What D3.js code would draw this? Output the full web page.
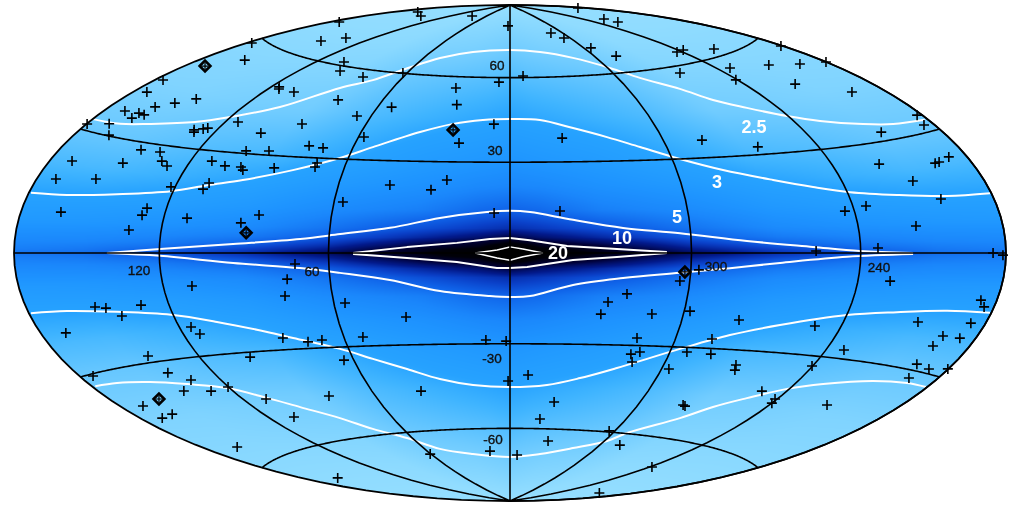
<!DOCTYPE html>
<html><head><meta charset="utf-8"><script src="https://cdn.jsdelivr.net/npm/d3@7"></script>
<style>
html,body{margin:0;padding:0;background:#fff;overflow:hidden}
#wrap{position:relative;width:1019px;height:506px}
canvas,svg{position:absolute;left:0;top:0}
text{font-family:"Liberation Sans",Arial,sans-serif}
</style></head><body><div id="wrap"><canvas id="field" width="1019" height="506"></canvas><svg id="chart" width="1019" height="506"></svg></div>
<script>
// ---- sources, [galactic longitude, latitude] in degrees
const sources = "177.3,58.4 145.9,65.0 158.1,55.0 175.5,69.7 98.2,58.3 104.5,61.2 137.0,67.7 80.8,49.1 176.1,44.9 173.4,41.5 116.2,50.7 114.8,50.1 105.7,49.9 145.9,43.2 152.7,41.0 159.1,39.0 170.1,36.3 162.5,36.7 159.1,36.6 162.7,35.2 179.7,31.4 169.7,32.7 114.5,39.0 86.7,40.4 124.6,36.2 126.2,35.8 129.6,35.2 128.7,34.6 100.5,36.5 164.0,30.2 77.4,33.7 71.5,33.3 143.9,28.0 135.2,28.1 100.8,30.8 91.8,31.3 169.7,22.7 147.0,24.0 131.5,25.7 128.0,24.5 111.5,27.0 105.2,25.9 98.8,25.9 97.4,25.0 86.0,26.2 70.8,28.4 70.9,27.1 171.2,18.0 153.8,19.2 121.6,18.8 107.7,20.6 108.9,18.7 162.1,10.2 127.5,12.5 128.6,10.5 111.2,10.1 85.3,11.6 91.2,9.1 132.4,6.3 71.5,-3.4 74.7,-8.1 109.2,-9.6 76.5,-13.3 149.8,-14.1 145.5,-14.6 140.5,-17.0 130.9,-14.4 115.4,-21.4 113.5,-23.6 168.5,-19.7 82.7,-26.3 74.0,-27.9 68.5,-27.5 41.8,22.0 27.2,20.6 22.1,23.9 56.9,16.2 5.3,13.1 343.3,13.7 320.8,-13.2 326.9,-15.9 328.8,-19.9 311.1,-19.6 56.1,-15.9 35.9,-20.8 53.0,-27.0 8.7,-28.7 1.4,-29.1 314.2,-27.5 303.4,-8.9 167.1,79.1 147.0,78.9 89.1,83.5 3.1,80.7 184.4,82.1 221.2,77.9 221.1,76.0 312.5,77.0 305.8,74.6 294.8,69.9 285.5,66.0 243.2,64.0 263.4,57.7 62.3,60.1 81.5,57.4 352.5,60.6 6.0,58.3 27.9,55.8 24.5,49.8 53.6,48.0 66.1,44.3 57.8,37.5 6.7,43.1 19.7,36.4 339.5,38.1 237.0,64.1 218.5,62.1 181.0,56.8 233.0,56.4 210.5,54.5 194.5,52.3 180.2,50.4 240.8,52.9 216.1,48.4 196.2,43.0 182.4,34.1 185.0,31.7 207.7,32.3 284.7,35.7 264.4,32.4 220.8,24.3 188.4,23.6 194.6,22.8 196.7,22.7 211.4,19.0 203.5,13.8 234.9,13.2 243.6,12.0 217.4,7.2 233.4,1.4 256.5,0.6 185.9,0.0 181.4,-0.5 227.6,-7.7 297.3,-5.3 298.0,-18.4 279.5,-20.7 250.2,-21.4 210.0,-18.1 186.8,-16.9 187.3,-11.3 184.6,-12.8 195.5,-20.8 187.3,-20.7 286.5,-27.0 140.9,-28.2 99.8,-31.5 63.8,-34.3 173.7,-30.5 139.3,-33.3 132.7,-36.1 141.4,-38.6 129.6,-39.9 120.2,-39.5 109.7,-44.4 80.5,-45.6 169.3,-39.7 162.0,-43.3 169.7,-43.4 107.7,-50.8 163.1,-54.6 161.9,-68.8 314.5,-32.9 311.4,-32.1 312.9,-35.5 297.1,-37.3 0.8,-42.8 352.7,-40.7 38.7,-45.8 339.6,-50.1 344.4,-56.4 303.3,-59.6 335.4,-64.6 287.5,-64.2 14.9,-68.7 354.4,-70.3 60.5,-68.5 238.4,-69.2 199.5,-79.3 293.6,-31.5 284.0,-31.8 271.4,-34.7 270.3,-36.3 196.6,-23.5 232.7,-27.5 196.5,-28.4 188.9,-28.9 180.3,-27.9 193.4,-31.9 240.3,-32.9 250.8,-41.8 241.0,-43.5 240.0,-44.8 214.1,-42.5 279.2,-48.7 277.8,-49.0";
const highlighted = "170.3,50.7 23.1,40.9 88.8,6.1 302.0,-6.0 157.3,-39.2";

// ---- white contours of the field
const contours = [
 "179.8,32.7 164.7,33.3 151.4,34.8 132.9,37.3 120.3,40.1 103.5,44.9 86.2,53.0 74.3,56.7 62.5,62.0 48.9,66.6 28.7,69.6 0.0,70.7 336.7,69.7 315.8,66.8 298.7,62.1 288.2,57.7 274.4,52.7 265.0,48.0 253.9,44.4 240.5,40.5 228.7,37.8 211.6,35.1 198.4,33.6 181.7,32.7",
 "178.3,-32.7 166.6,-33.3 151.4,-34.8 136.4,-37.0 121.1,-39.7 108.7,-44.1 98.7,-48.1 86.2,-53.0 76.2,-57.7 63.1,-62.0 49.6,-66.9 28.7,-69.6 0.0,-71.1 336.7,-69.7 315.8,-66.8 298.5,-63.2 292.2,-59.8 273.8,-53.0 264.5,-48.3 253.9,-44.4 241.0,-40.2 227.9,-37.4 207.8,-34.4 191.6,-33.1 180.6,-32.8",
 "179.0,14.1 162.5,14.5 141.7,15.8 120.8,17.6 107.9,19.9 95.5,22.0 78.6,25.8 63.1,30.3 52.4,34.3 36.2,39.9 23.7,43.0 11.5,44.5 0.0,44.9 347.3,44.5 334.2,41.5 321.7,38.1 310.3,34.4 297.1,30.0 282.9,25.9 266.0,22.1 252.2,19.4 238.9,17.3 220.9,15.7 200.3,14.4 180.6,14.0",
 "179.0,-14.1 162.5,-14.5 141.7,-15.8 120.8,-17.6 104.5,-20.4 87.5,-24.2 78.9,-26.5 63.2,-30.6 52.4,-34.3 40.7,-38.1 28.8,-41.8 15.6,-44.1 0.0,-44.9 344.4,-44.1 331.3,-41.5 317.9,-37.7 296.8,-30.6 280.5,-25.5 263.6,-21.7 239.9,-17.7 220.7,-16.0 200.1,-14.6 180.6,-14.0",
 "140.3,0.0 119.7,1.1 93.1,2.7 69.8,4.4 56.3,6.0 39.7,8.1 23.3,11.4 7.7,13.4 0.0,13.8 353.3,13.4 339.1,10.8 322.6,8.1 303.6,6.3 280.9,3.7 257.6,1.8 240.3,0.6 219.7,0.0",
 "140.3,0.0 119.7,-0.8 93.1,-3.0 69.9,-4.7 56.4,-6.3 39.8,-8.7 23.3,-12.4 6.7,-14.1 0.0,-14.4 353.3,-14.1 339.1,-10.4 322.6,-8.1 303.6,-6.3 286.7,-4.7 269.3,-3.0 245.1,-1.1 219.7,-0.3",
 "51.7,0.0 33.8,1.9 17.4,3.3 6.6,4.6 0.0,4.9 353.5,4.2 341.3,2.3 324.9,1.3 308.3,0.3",
 "51.7,-0.3 33.8,-1.6 17.4,-2.9 4.3,-4.9 0.0,-4.9 354.4,-4.6 339.4,-2.3 324.9,-1.3 308.3,0.0",
 "11.4,0.0 4.2,1.0 0.0,2.0 355.8,1.3 349.2,0.0",
 "11.4,0.0 4.2,-1.6 0.0,-2.4 355.8,-1.2 349.2,0.0"
];
const smoothContours = 6;

// ---- field values, estimated: one row per latitude, one column per longitude away from the centre
const fieldLons = [0,10,30,60,90,120,150,180];
const fieldLats = [0,1,2,3,5,8,14,22,30,45,60,71,90];
const fieldRows = [
 [60,20,13,9,6.6,5.4,4.7,4.5],
 [30,16,12,7.8,6,5,4.4,4.2],
 [20,13,10.4,7,5.4,4.6,4.2,4.05],
 [15,11.5,9.2,6.3,4.9,4.3,4,3.9],
 [10,8.5,7,5.2,4.3,3.95,3.75,3.65],
 [6.7,6.3,5.5,4.5,3.8,3.55,3.4,3.3],
 [5,4.8,4.2,3.8,3.35,3.15,3.05,3],
 [4,3.9,3.6,3.3,3,2.85,2.75,2.72],
 [3.5,3.4,3.25,2.97,2.75,2.68,2.57,2.54],
 [3,2.95,2.85,2.7,2.48,2.44,2.38,2.36],
 [2.7,2.65,2.6,2.52,2.35,2.32,2.3,2.29],
 [2.5,2.47,2.42,2.38,2.28,2.26,2.25,2.24],
 [2.2,2.2,2.2,2.2,2.2,2.2,2.2,2.2]
];
const colourLevels = [2.2,2.5,2.8,3,3.5,4,5,6,7.5,10,14,20];
const colourStops = ["#96dfff","#6fcbff","#3fb4ff","#26a2ff","#1e94ff","#1a86fb","#0f62e8","#0a40c8","#021a8c","#000038","#000008","#000000"];

// ---- grid and labels
const gridLons = 60, gridLats = 30;
const levelLabels = ["2.5","3","5","10","20"];
const lonLabels = ["120","60","300","240"];
const latLabels = ["60","30","-30","-60"];

// ---- Hammer projection
function hammerRaw(l,p){
  const c=Math.cos(p),d=Math.sqrt(1+c*Math.cos(l/2));
  return [2*Math.SQRT2*c*Math.sin(l/2)/d, Math.SQRT2*Math.sin(p)/d];
}
hammerRaw.invert=function(x,y){
  const z=Math.sqrt(Math.max(0,1-x*x/16-y*y/4));
  return [2*Math.atan2(z*x,2*(2*z*z-1)),Math.asin(Math.max(-1,Math.min(1,z*y)))];
};
const W=1019,H=506,cx=510,cy=253,rx=496,ry=248;
const projection=d3.geoProjection(hammerRaw).scale(rx/(2*Math.SQRT2)).translate([cx,cy]).reflectX(true).precision(0.2);
const geoPath=d3.geoPath(projection);
const parse=s=>s.split(" ").map(t=>t.split(",").map(Number));

// ---- field raster
const colour=d3.scaleLinear().domain(colourLevels).range(colourStops).interpolate(d3.interpolateRgb).clamp(true);
function fieldAt(lon,lat){
  const a=Math.abs(lon),b=Math.abs(lat);
  const i=Math.min(d3.bisectRight(fieldLons,a),fieldLons.length-1),j=Math.min(d3.bisectRight(fieldLats,b),fieldLats.length-1);
  const u=(a-fieldLons[i-1])/(fieldLons[i]-fieldLons[i-1]),v=(b-fieldLats[j-1])/(fieldLats[j]-fieldLats[j-1]);
  const L=Math.log;
  return Math.exp((1-v)*((1-u)*L(fieldRows[j-1][i-1])+u*L(fieldRows[j-1][i]))+v*((1-u)*L(fieldRows[j][i-1])+u*L(fieldRows[j][i])));
}
const ctx=document.getElementById("field").getContext("2d");
const img=ctx.createImageData(W,H);
for(let y=0;y<H;y++)for(let x=0;x<W;x++){
  const dx=(x+.5-cx)/rx,dy=(y+.5-cy)/ry,k=(y*W+x)*4;
  if(dx*dx+dy*dy>1){img.data[k]=img.data[k+1]=img.data[k+2]=255;img.data[k+3]=255;continue;}
  const g=projection.invert([x+.5,y+.5]);
  const c=d3.rgb(colour(fieldAt(g[0],g[1])));
  img.data[k]=c.r;img.data[k+1]=c.g;img.data[k+2]=c.b;img.data[k+3]=255;
}
ctx.putImageData(img,0,0);

// ---- overlay
const svg=d3.select("#chart");
const smooth=d3.line().curve(d3.curveCatmullRom.alpha(0.5)), sharp=d3.line().curve(d3.curveLinear);
svg.selectAll("path.contour").data(contours).join("path").attr("class","contour")
  .attr("d",(s,i)=>(i<smoothContours?smooth:sharp)(parse(s).map(p=>projection(p))))
  .attr("fill","none").attr("stroke","#fff").attr("stroke-width",(s,i)=>i<8?2:1.5).attr("stroke-linejoin","round");
const graticule=d3.geoGraticule().extent([[-180,-90],[180,90.001]]).step([gridLons,gridLats]).stepMajor([gridLons,gridLats]).precision(1);
svg.append("path").datum(graticule()).attr("d",geoPath).attr("fill","none").attr("stroke","#000").attr("stroke-width",1.6);
svg.append("path").datum({type:"Sphere"}).attr("d",geoPath).attr("fill","none").attr("stroke","#000").attr("stroke-width",1.8);

const plus="M-5,0H5M0,-5V5";
svg.selectAll("path.src").data(parse(sources)).join("path").attr("class","src")
  .attr("transform",d=>{const p=projection(d);return `translate(${p[0]},${p[1]})`;})
  .attr("d",plus).attr("fill","none").attr("stroke","#000").attr("stroke-width",1.6);
const hi=svg.selectAll("g.hi").data(parse(highlighted)).join("g").attr("class","hi")
  .attr("transform",d=>{const p=projection(d);return `translate(${p[0]},${p[1]})`;});
hi.append("path").attr("d","M-5.4,0L0,-5.4L5.4,0L0,5.4Z").attr("fill","none").attr("stroke","#000").attr("stroke-width",2.6);
hi.append("path").attr("d","M-3.5,0H3.5M0,-3.5V3.5").attr("fill","none").attr("stroke","#000").attr("stroke-width",1.2);

// labels
const T=(s,x,y,size,fill,weight,halo)=>svg.append("text").text(s).attr("x",x).attr("y",y).attr("text-anchor","middle").attr("dominant-baseline","central").attr("font-size",size).attr("fill",fill).attr("font-weight",weight).attr("stroke",halo||"none").attr("stroke-width",halo?0.35:0);
const lbl="#111";
T(lonLabels[0],139,270,13.5,lbl,"normal",lbl);T(lonLabels[1],312,271,13.5,lbl,"normal",lbl);T(lonLabels[2],716,266,13.5,lbl,"normal",lbl);T(lonLabels[3],879,267,13.5,lbl,"normal",lbl);
T(latLabels[0],497,65,13.5,lbl,"normal",lbl);T(latLabels[1],495,150,13.5,lbl,"normal",lbl);T(latLabels[2],492,358,13.5,lbl,"normal",lbl);T(latLabels[3],493,439,13.5,lbl,"normal",lbl);
T(levelLabels[0],754,127,18,"#fff","bold");T(levelLabels[1],717,182,18,"#fff","bold");T(levelLabels[2],677,217,18,"#fff","bold");T(levelLabels[3],622,238,18,"#fff","bold");T(levelLabels[4],558,253,18,"#fff","bold");
</script></body></html>
